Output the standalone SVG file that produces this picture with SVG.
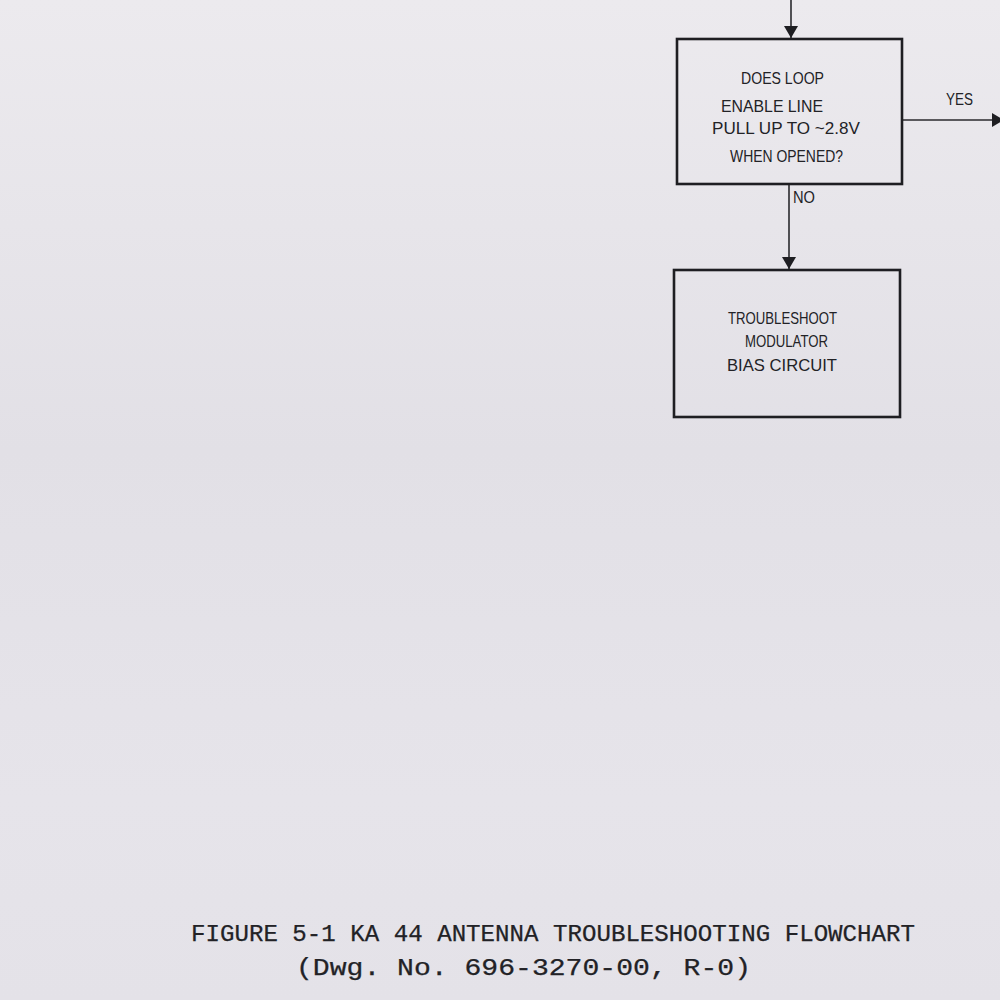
<svg xmlns="http://www.w3.org/2000/svg" width="1000" height="1000" viewBox="0 0 1000 1000">
<defs>
<marker id="ah" viewBox="0 0 12 18" refX="12" refY="9" markerWidth="12" markerHeight="18" markerUnits="userSpaceOnUse" orient="auto">
<path d="M0,2 L12,9 L0,16 Z" fill="#1e1e22"/>
</marker>
<linearGradient id="bg" x1="0" y1="0" x2="0" y2="1">
<stop offset="0" stop-color="#eceaee"/>
<stop offset="0.45" stop-color="#e2e0e6"/>
<stop offset="0.8" stop-color="#e6e4ea"/>
<stop offset="1" stop-color="#e4e2e8"/>
</linearGradient>
<style>
.box{fill:none;stroke:#1e1e22;stroke-width:2.6}
.ln{fill:none;stroke:#2a2a2e;stroke-width:1.6}
.t{font-family:"Liberation Sans","DejaVu Sans",sans-serif;font-size:16.5px;fill:#222226}
.cap{font-family:"Liberation Mono","DejaVu Sans Mono",monospace;font-size:23px;fill:#222226;stroke:#222226;stroke-width:0.25}
</style>
</defs>
<rect width="1000" height="1000" fill="url(#bg)"/>
<g id="connectors">
<line class="ln" x1="791" y1="0" x2="791" y2="38" marker-end="url(#ah)"/>
<line class="ln" x1="789" y1="184" x2="789" y2="269" marker-end="url(#ah)"/>
<line class="ln" x1="903" y1="120" x2="1004" y2="120" marker-end="url(#ah)"/>
<text class="t" x="793" y="203" textLength="22" lengthAdjust="spacingAndGlyphs">NO</text>
<text class="t" x="946" y="105" textLength="27" lengthAdjust="spacingAndGlyphs">YES</text>
</g>
<g id="node-decision">
<rect class="box" x="677" y="39" width="225" height="145"/>
<text class="t" x="741" y="84" textLength="83" lengthAdjust="spacingAndGlyphs">DOES LOOP</text>
<text class="t" x="721" y="112" textLength="102" lengthAdjust="spacingAndGlyphs">ENABLE LINE</text>
<text class="t" x="712" y="134" textLength="148" lengthAdjust="spacingAndGlyphs">PULL UP TO ~2.8V</text>
<text class="t" x="730" y="162" textLength="113" lengthAdjust="spacingAndGlyphs">WHEN OPENED?</text>
</g>
<g id="node-troubleshoot">
<rect class="box" x="674" y="270" width="226" height="147"/>
<text class="t" x="728" y="324" textLength="109" lengthAdjust="spacingAndGlyphs">TROUBLESHOOT</text>
<text class="t" x="745" y="347" textLength="83" lengthAdjust="spacingAndGlyphs">MODULATOR</text>
<text class="t" x="727" y="371" textLength="110" lengthAdjust="spacingAndGlyphs">BIAS CIRCUIT</text>
</g>
<g id="caption">
<text class="cap" x="191" y="941" textLength="724" lengthAdjust="spacingAndGlyphs">FIGURE 5-1 KA 44 ANTENNA TROUBLESHOOTING FLOWCHART</text>
<text class="cap" x="296" y="975" textLength="455" lengthAdjust="spacingAndGlyphs">(Dwg. No. 696-3270-00, R-0)</text>
</g>
</svg>
